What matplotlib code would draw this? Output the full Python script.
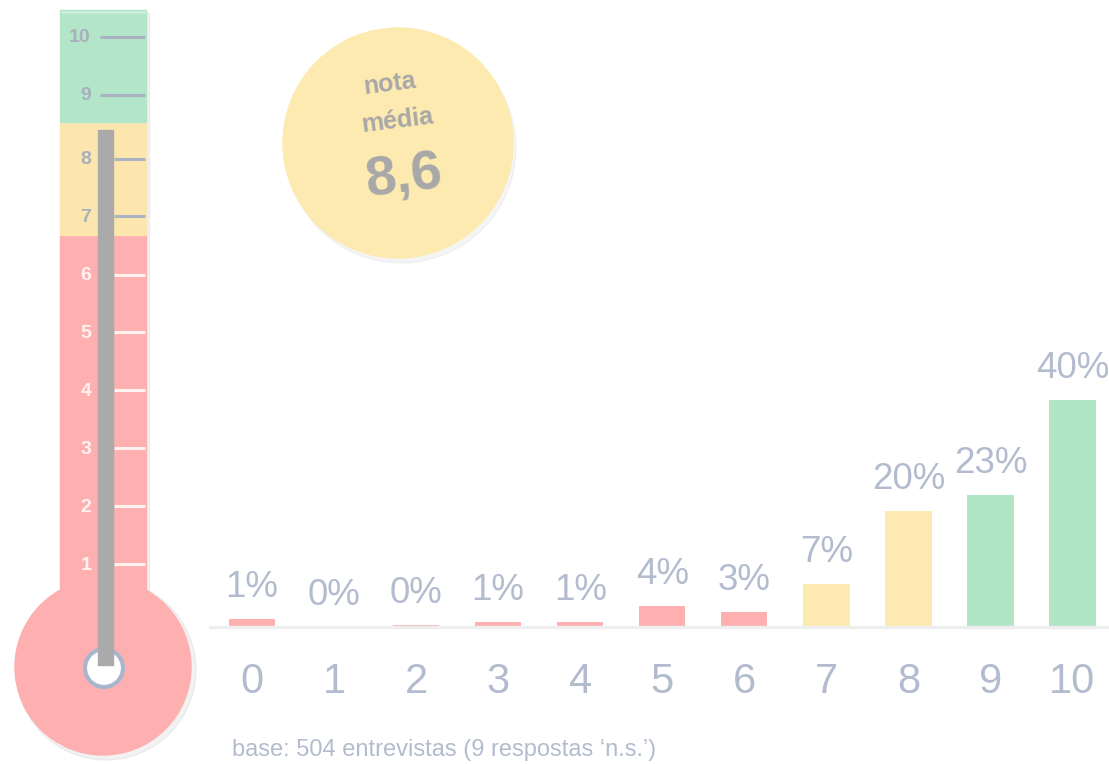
import matplotlib
matplotlib.use("Agg")
import matplotlib.pyplot as plt
from matplotlib.patches import Rectangle, Circle

# ---- data ----
categories = ["0", "1", "2", "3", "4", "5", "6", "7", "8", "9", "10"]
values = [1.4, 0.0, 0.4, 0.9, 0.9, 3.7, 2.6, 7.6, 20.4, 23.3, 40.0]
value_labels = ["1%", "0%", "0%", "1%", "1%", "4%", "3%", "7%", "20%", "23%", "40%"]
bar_groups = ["red", "red", "red", "red", "red", "red", "red", "yellow", "yellow", "green", "green"]
thermo_labels = ["1", "2", "3", "4", "5", "6", "7", "8", "9", "10"]
mean_score = "8,6"
mean_caption = ["nota", "média"]
footnote = "base: 504 entrevistas (9 respostas \u2018n.s.\u2019)"

RED = "#feb0b0"
YEL = "#fee9b1"
GRN = "#b0e6c6"
TXT = "#b3bccf"
colors = {"red": RED, "yellow": YEL, "green": GRN}
FONT = "Liberation Sans"

W, H = 1109, 764
fig = plt.figure(figsize=(W / 100, H / 100), dpi=100)

# background drawing axes in pixel coords
bg = fig.add_axes([0, 0, 1, 1])
bg.set_xlim(0, W)
bg.set_ylim(H, 0)
bg.axis("off")

# ---- thermometer ----
bg.add_patch(Rectangle((63, 13), 86, 600, color="#000000", alpha=0.05, zorder=1))
bg.add_patch(Circle((106, 670), 90, color="#000000", alpha=0.05, zorder=1))
bg.add_patch(Rectangle((60, 235), 86, 400, color=RED, zorder=2))
bg.add_patch(Rectangle((60, 122), 86, 113, color="#fde6ad", zorder=2))
bg.add_patch(Rectangle((60, 10), 86, 112, color="#b3e6c9", zorder=2))
bg.add_patch(Circle((103, 667), 88, color=RED, zorder=2))
bg.plot([62, 144], [12, 12], color="#c8f0da", lw=2, zorder=3)

tick_y = {"1": 564, "2": 506, "3": 448, "4": 390, "5": 332, "6": 275,
          "7": 216, "8": 159, "9": 95, "10": 37}
for lab in thermo_labels:
    y = tick_y[lab]
    v = int(lab)
    if v >= 7:
        tc, lc = "#a9b0bd", "#aab2c4"
    else:
        tc, lc = "#fff2f0", "#fff2f0"
    x0 = 100 if v >= 9 else 114
    bg.plot([x0, 145], [y, y], color=lc, lw=2.2, zorder=3, solid_capstyle="butt")
    bg.text(86 if v < 10 else 80, y + 1, lab, ha="center", va="center", fontsize=14,
            fontweight="bold", color=tc, family=FONT, zorder=4)

# mercury column and bulb ring
bg.add_patch(Rectangle((98, 130), 15, 535, color="#aaaaaa", zorder=5))
bg.add_patch(Circle((104, 668), 19, facecolor="#ffffff", edgecolor="#a9b5cc", lw=3, zorder=4))

# ---- mean circle ----
bg.add_patch(Circle((401, 148), 115, color="#000000", alpha=0.04, zorder=1))
bg.add_patch(Circle((398, 143), 115, color="#fdeab0", zorder=2))
bg.text(390, 84, mean_caption[0], ha="center", va="center", fontsize=18, fontweight="bold",
        color="#a8a8a8", rotation=7, family=FONT, zorder=3)
bg.text(397, 121, mean_caption[1], ha="center", va="center", fontsize=18, fontweight="bold",
        color="#a8a8a8", rotation=7, family=FONT, zorder=3)
bg.text(404, 178, mean_score, ha="center", va="center", fontsize=40, fontweight="bold",
        color="#a8a8a8", rotation=7, family=FONT, zorder=3)

# ---- bar chart ----
base_px, top_px = 627, 340
left_px, right_px = 210, 1109
x0c, step = 252, 82.05
px_per = 5.67
ax = fig.add_axes([left_px / W, (H - base_px) / H, (right_px - left_px) / W, (base_px - top_px) / H])
ax.set_xlim((left_px - x0c) / step, (right_px - x0c) / step)
ax.set_ylim(0, (base_px - top_px) / px_per)
ax.patch.set_alpha(0)
xs = list(range(len(categories)))
ax.bar(xs, values, width=0.565, color=[colors[g] for g in bar_groups], zorder=2)
for x, v, lab in zip(xs, values, value_labels):
    ax.annotate(lab, (x, v), xytext=(0, 10), textcoords="offset points", ha="center", va="bottom",
                fontsize=26.5, color=TXT, family=FONT, annotation_clip=False)
for s in ["top", "right", "left"]:
    ax.spines[s].set_visible(False)
ax.spines["bottom"].set_color("#eeeeee")
ax.spines["bottom"].set_linewidth(2.5)
ax.set_yticks([])
ax.set_xticks(xs)
ax.set_xticklabels(categories, fontsize=30, color=TXT, family=FONT)
ax.tick_params(axis="x", length=0, pad=25)

fig.text(232 / W, 1 - 750 / H, footnote, ha="left", va="center", fontsize=17, color=TXT, family=FONT)

fig.savefig("out.png", dpi=100)
